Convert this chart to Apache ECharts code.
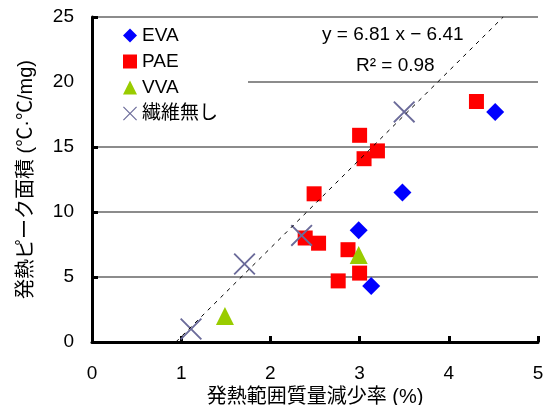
<!DOCTYPE html>
<html><head><meta charset="utf-8">
<script src="https://cdn.jsdelivr.net/npm/echarts@6/dist/echarts.min.js"></script>
<style>html,body{margin:0;padding:0;background:#fff}#c{width:546px;height:405px}</style>
</head><body><div id="c"></div>
<script>
const seriesNames = ['EVA', 'PAE', 'VVA', '繊維無し'];
const evaData = [[2.99, 8.6], [3.13, 4.3], [3.48, 11.5], [4.52, 17.7]];
const paeData = [[4.31, 18.5], [3.0, 15.9], [3.2, 14.7], [3.05, 14.1], [2.49, 11.4], [2.39, 8.0], [2.54, 7.6], [2.87, 7.1], [3.0, 5.3], [2.76, 4.7]];
const vvaData = [[2.99, 6.7], [1.49, 2.0]];
const noFiberData = [[1.11, 1.0], [1.71, 6.0], [2.35, 8.2], [3.50, 17.7]];
const trendData = [[0.94, 0], [4.61, 25]];
const xTicks = { min: 0, max: 5, interval: 1 };
const yTicks = { min: 0, max: 25, interval: 5 };
const eqText = 'y = 6.81 x − 6.41';
const r2Text = 'R² = 0.98';
const xTitle = '発熱範囲質量減少率 (%)';
const yTitle = '発熱ピーク面積 (℃·℃/mg)';

const FONT = '"Liberation Sans", "Noto Sans CJK JP", sans-serif';
const xPath = 'path://M0,6 L6,0 L50,44 L94,0 L100,6 L56,50 L100,94 L94,100 L50,56 L6,100 L0,94 L44,50 Z';

const chart = echarts.init(document.getElementById('c'), null, { renderer: 'canvas' });
chart.setOption({
  animation: false,
  backgroundColor: '#fff',
  textStyle: { fontFamily: FONT },
  grid: { left: 92, right: 8, top: 17, bottom: 63, containLabel: false, outerBoundsMode: 'none' },
  xAxis: {
    type: 'value', min: xTicks.min, max: xTicks.max, interval: xTicks.interval,
    name: xTitle, nameLocation: 'middle', nameGap: 40,
    nameTextStyle: { fontSize: 20, color: '#000', fontFamily: FONT },
    axisLine: { show: true, onZero: false, lineStyle: { color: '#000', width: 3 } },
    axisTick: { show: true, inside: true, length: 6, lineStyle: { color: '#000', width: 3 } },
    axisLabel: { fontSize: 19, color: '#000', margin: 22, fontFamily: FONT },
    splitLine: { show: false }
  },
  yAxis: {
    type: 'value', min: yTicks.min, max: yTicks.max, interval: yTicks.interval,
    name: yTitle, nameLocation: 'middle', nameGap: 56, nameRotate: 90,
    nameTextStyle: { fontSize: 20, color: '#000', fontFamily: FONT },
    axisLine: { show: true, onZero: false, lineStyle: { color: '#000', width: 3 } },
    axisTick: { show: true, inside: true, length: 6, lineStyle: { color: '#000', width: 3 } },
    axisLabel: { fontSize: 19, color: '#000', margin: 18, fontFamily: FONT },
    splitLine: { show: true, lineStyle: { color: '#8c8c8c', width: 2 } }
  },
  legend: {
    data: seriesNames,
    orient: 'vertical', left: 94, top: 20,
    padding: [6, 30, 4, 29],
    backgroundColor: '#fff',
    itemWidth: 14, itemHeight: 14, itemGap: 7,
    textStyle: { fontSize: 19, lineHeight: 19, color: '#000', fontFamily: FONT }
  },
  graphic: [
    { type: 'text', left: 322, top: 25, z: 100, style: { text: eqText, fontSize: 19, fill: '#000', font: '19px ' + FONT } },
    { type: 'text', left: 356, top: 56, z: 100, style: { text: r2Text, fontSize: 19, fill: '#000', font: '19px ' + FONT } }
  ],
  series: [
    { name: 'EVA', type: 'scatter', data: evaData, symbol: 'diamond', symbolSize: 18, itemStyle: { color: '#0000ff', opacity: 1 }, z: 3 },
    { name: 'PAE', type: 'scatter', data: paeData, symbol: 'rect', symbolSize: 15, itemStyle: { color: '#ff0000', opacity: 1 }, z: 3 },
    { name: 'VVA', type: 'scatter', data: vvaData, symbol: 'triangle', symbolSize: 18, itemStyle: { color: '#99cc00', opacity: 1 }, z: 3 },
    { name: '繊維無し', type: 'scatter', data: noFiberData, symbol: xPath, symbolSize: 22, itemStyle: { color: '#6b6b9a', opacity: 1 }, z: 4 },
    { name: 'trend', type: 'line', data: trendData, symbol: 'none', silent: true, z: 5,
      lineStyle: { color: '#000', width: 1, type: [4, 5] } }
  ]
});
</script></body></html>
